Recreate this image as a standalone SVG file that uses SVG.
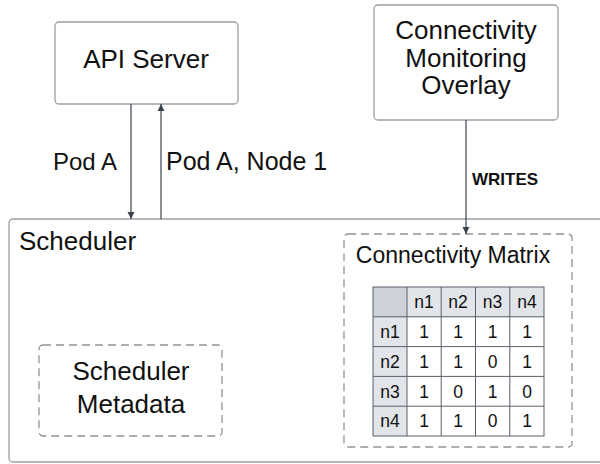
<svg xmlns="http://www.w3.org/2000/svg" width="600" height="464" viewBox="0 0 600 464">
  <style>
    .box { fill: #ffffff; stroke: #9a9ea4; stroke-width: 1.3; }
    .dash { fill: none; stroke: #8f949a; stroke-width: 1.3; stroke-dasharray: 8 5; }
    .lbl { font-family: "Liberation Sans", Arial, sans-serif; font-size: 26px; fill: #111111; }
    .mid { text-anchor: middle; }
    .bold { font-family: "Liberation Sans", Arial, sans-serif; font-size: 17px; font-weight: bold; fill: #111111; }
    .edge { stroke: #3c434c; stroke-width: 1.2; fill: none; }
    .cell { font-family: "Liberation Sans", Arial, sans-serif; font-size: 17.5px; fill: #111111; text-anchor: middle; }
    .grid { stroke: #5b6068; stroke-width: 1; fill: none; }
  </style>
  <defs>
    <marker id="arrow" viewBox="0 0 10 10" refX="10" refY="5" markerWidth="7" markerHeight="8" markerUnits="userSpaceOnUse" orient="auto">
      <path d="M0,0 L10,5 L0,10 z" fill="#3c434c"/>
    </marker>
  </defs>

  <rect width="600" height="464" fill="#ffffff"/>

  <!-- container -->
  <g id="scheduler">
    <rect class="box" x="9" y="219" width="600" height="243" rx="4"/>
    <text class="lbl" x="19" y="250">Scheduler</text>
  </g>

  <g id="api-server">
    <rect class="box" x="55" y="22" width="183" height="82" rx="4"/>
    <text class="lbl mid" x="146" y="68">API Server</text>
  </g>

  <g id="overlay">
    <rect class="box" x="374" y="5" width="184" height="115" rx="4"/>
    <text class="lbl mid" x="466" y="39">Connectivity</text>
    <text class="lbl mid" x="466" y="67">Monitoring</text>
    <text class="lbl mid" x="466" y="94">Overlay</text>
  </g>

  <g id="scheduler-metadata">
    <rect class="dash" x="39" y="345" width="183" height="91" rx="4"/>
    <text class="lbl mid" x="131" y="380">Scheduler</text>
    <text class="lbl mid" x="131" y="413">Metadata</text>
  </g>

  <g id="connectivity-matrix">
    <rect class="dash" x="344" y="234" width="228" height="213" rx="4"/>
    <text class="lbl mid" x="453" y="263" style="font-size:23px">Connectivity Matrix</text>
    <!-- header fills -->
    <rect x="373" y="287" width="171" height="30" fill="#e1e4e9"/>
    <rect x="373" y="287" width="34" height="149" fill="#e1e4e9"/>
    <rect x="373" y="287" width="34" height="30" fill="#cdd1d8"/>
    <rect x="407" y="317" width="137" height="119" fill="#ffffff"/>
    <!-- grid -->
    <rect class="grid" x="373" y="287" width="171" height="149"/>
    <path class="grid" d="M407,287 V436 M441.2,287 V436 M475.5,287 V436 M509.8,287 V436 M373,316.8 H544 M373,346.6 H544 M373,376.4 H544 M373,406.2 H544"/>
    <g>
      <text class="cell" x="424" y="308">n1</text>
      <text class="cell" x="458" y="308">n2</text>
      <text class="cell" x="492.5" y="308">n3</text>
      <text class="cell" x="527" y="308">n4</text>

      <text class="cell" x="390" y="338">n1</text>
      <text class="cell" x="424" y="338">1</text>
      <text class="cell" x="458" y="338">1</text>
      <text class="cell" x="492.5" y="338">1</text>
      <text class="cell" x="527" y="338">1</text>

      <text class="cell" x="390" y="368">n2</text>
      <text class="cell" x="424" y="368">1</text>
      <text class="cell" x="458" y="368">1</text>
      <text class="cell" x="492.5" y="368">0</text>
      <text class="cell" x="527" y="368">1</text>

      <text class="cell" x="390" y="397.5">n3</text>
      <text class="cell" x="424" y="397.5">1</text>
      <text class="cell" x="458" y="397.5">0</text>
      <text class="cell" x="492.5" y="397.5">1</text>
      <text class="cell" x="527" y="397.5">0</text>

      <text class="cell" x="390" y="427">n4</text>
      <text class="cell" x="424" y="427">1</text>
      <text class="cell" x="458" y="427">1</text>
      <text class="cell" x="492.5" y="427">0</text>
      <text class="cell" x="527" y="427">1</text>
    </g>
  </g>

  <g id="connectors">
    <line class="edge" x1="131" y1="104" x2="131" y2="219" marker-end="url(#arrow)"/>
    <line class="edge" x1="161" y1="219" x2="161" y2="104" marker-end="url(#arrow)"/>
    <line class="edge" x1="466" y1="120" x2="466" y2="234" marker-end="url(#arrow)"/>
    <text class="lbl" x="53" y="170" style="font-size:24px">Pod A</text>
    <text class="lbl" x="166" y="170" style="font-size:25px">Pod A, Node 1</text>
    <text class="bold" x="472" y="185">WRITES</text>
  </g>
</svg>
